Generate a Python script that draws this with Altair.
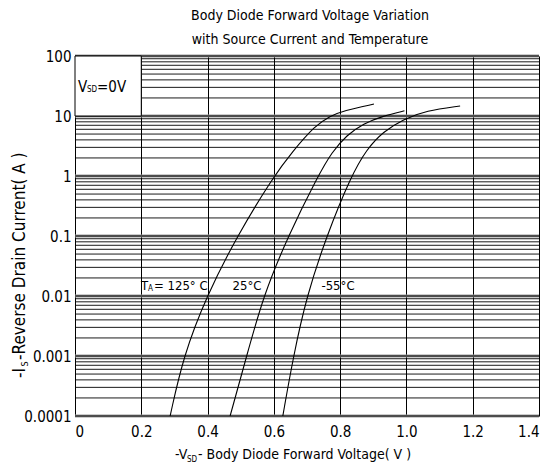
import altair as alt
import pandas as pd

FONT = "Liberation Sans Narrow, DejaVu Sans Condensed, sans-serif"

# Curve data (V, A)
v_125 = [0.287, 0.327, 0.397, 0.489, 0.600, 0.655, 0.725, 0.770, 0.810, 0.902]
i_125 = [0.0001, 0.001, 0.01, 0.1, 1.0, 2.5, 7.0, 10.0, 12.3, 15.8]
v_25 = [0.468, 0.518, 0.568, 0.643, 0.733, 0.775, 0.820, 0.870, 0.930, 0.994]
i_25 = [0.0001, 0.001, 0.01, 0.1, 1.0, 2.5, 4.8, 7.5, 10.0, 12.2]
v_m55 = [0.627, 0.659, 0.699, 0.759, 0.833, 0.880, 0.930, 0.990, 1.060, 1.162]
i_m55 = [0.0001, 0.001, 0.01, 0.1, 1.0, 2.8, 5.5, 8.8, 12.3, 14.7]

x_ticks = [0, 0.2, 0.4, 0.6, 0.8, 1.0, 1.2, 1.4]
decades = [0.0001, 0.001, 0.01, 0.1, 1, 10, 100]
minor = [round(k * d, 6) for d in decades[:-1] for k in range(2, 10)]

rows = []
for name, vs, is_ in [("125", v_125, i_125), ("25", v_25, i_25), ("-55", v_m55, i_m55)]:
    for v, i in zip(vs, is_):
        rows.append({"series": name, "v": v, "i": i})
curves = pd.DataFrame(rows)

xs = alt.Scale(domain=[0, 1.4], nice=False, zero=False)
ys = alt.Scale(type="log", domain=[0.0001, 100], nice=False)

base_x = alt.X("v:Q", scale=xs,
               axis=alt.Axis(values=x_ticks, title=None, grid=True, gridColor="#000",
                             gridWidth=1, ticks=False, domain=False, labelPadding=8,
                             labelFontSize=15, labelFont=FONT, labelColor="#000",
                             labelExpr="datum.value == 0 ? '0' : format(datum.value, '.1f')"))
base_y = alt.Y("i:Q", scale=ys,
               axis=alt.Axis(values=decades, title=None, grid=False, ticks=False, domain=False,
                             labelPadding=4, labelFontSize=15, labelFont=FONT, labelColor="#000",
                             labelExpr="format(datum.value, '~f')"))

lines_chart = alt.Chart(curves).mark_line(color="#000", strokeWidth=1.1, interpolate="basis", clip=True).encode(
    x=base_x, y=base_y, detail="series:N")

minor_rules = alt.Chart(pd.DataFrame({"i": minor})).mark_rule(color="#000", strokeWidth=0.9).encode(
    y=alt.Y("i:Q", scale=ys))
dec_gray = alt.Chart(pd.DataFrame({"i": decades})).mark_rule(color="#999", strokeWidth=3).encode(
    y=alt.Y("i:Q", scale=ys))
dec_black = alt.Chart(pd.DataFrame({"i": decades})).mark_rule(color="#000", strokeWidth=1).encode(
    y=alt.Y("i:Q", scale=ys))

box = alt.Chart(pd.DataFrame({"v": [0.0], "v2": [0.2], "i": [10.0], "i2": [100.0]})).mark_rect(
    fill="white", stroke="#000", strokeWidth=1).encode(
    x=alt.X("v:Q", scale=xs), x2="v2:Q", y=alt.Y("i:Q", scale=ys), y2="i2:Q")

def txt(text, x, y, size=14, align="left", angle=0, baseline="middle"):
    return alt.Chart(pd.DataFrame({"t": [text]})).mark_text(
        font=FONT, fontSize=size, color="#000", align=align, baseline=baseline, angle=angle).encode(
        text="t:N", x=alt.value(x), y=alt.value(y))

texts = [
    txt("Body Diode Forward Voltage Variation", 235, -40, 14, "center"),
    txt("with Source Current and Temperature", 235, -16, 14, "center"),
    # V_SD = 0V
    txt("V", 3, 31, 15),
    txt("SD", 12, 34, 8),
    txt("=0V", 22, 31, 15),
    # T_A = 125°C
    txt("T", 66, 230, 13),
    txt("A", 73, 233, 8),
    txt("= 125° C", 79, 230, 13),
    txt("25°C", 172, 230, 13, "center"),
    txt("-55°C", 263, 230, 13, "center"),
    # x title
    txt("-V", 100, 403, 14, baseline="alphabetic"),
    txt("SD", 112, 406, 8, baseline="alphabetic"),
    txt("- Body Diode Forward Voltage( V )", 123, 403, 14, baseline="alphabetic"),
    # y title (rotated)
    txt("-I", -55, 322, 17, "left", 270),
    txt("S", -50, 310.5, 9, "left", 270),
    txt(" -Reverse Drain Current( A )", -55, 304, 17, "left", 270),
]

chart = alt.layer(minor_rules, dec_gray, dec_black, box, lines_chart, *texts).properties(
    width=464, height=360,
    autosize=alt.AutoSizeParams(type="none"),
    padding={"left": 67, "top": 48, "right": 6, "bottom": 47},
).configure_view(stroke="#000", strokeWidth=1.2).configure(background="white")

chart.save("out.html", embed_options={"renderer": "svg", "actions": False})
